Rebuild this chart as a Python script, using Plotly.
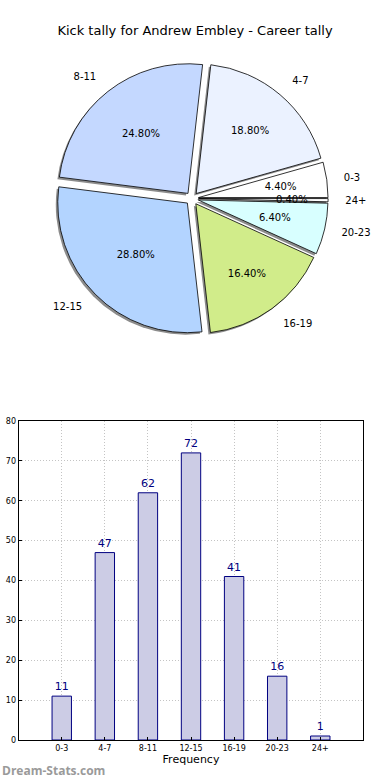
import plotly.graph_objects as go

categories = ["0-3", "4-7", "8-11", "12-15", "16-19", "20-23", "24+"]
counts = [11, 47, 62, 72, 41, 16, 1]
slice_colors = ["#ffffff", "#ebf2ff", "#c4d8ff", "#b3d4ff", "#d1ec8a", "#d8ffff", "#ffffff"]
y_ticks = [0, 10, 20, 30, 40, 50, 60, 70, 80]
title_text = "Kick tally for Andrew Embley - Career tally"

W, H = 390, 780
pull = 0.05
cx, cy = 195.5, 198.5  # pie centre (px from top-left)
r = 132
r_lab = 146
r_small_pct = 98
# first slice starts at 3 o'clock, counterclockwise
rot = 90 - 360 * counts[0] / sum(counts)
total = sum(counts)
small = [c / total < 0.1 for c in counts]

def dom(cxp, cyp, rad):
    half = rad * (1 + pull)
    return dict(x=[(cxp - half) / W, (cxp + half) / W],
                y=[(H - cyp - half) / H, (H - cyp + half) / H])

fig = go.Figure()

common = dict(labels=categories, values=counts, sort=False, direction="counterclockwise",
              rotation=rot, pull=[pull] * len(counts))

# shadow
fig.add_trace(go.Pie(
    **common, domain=dom(cx - 2, cy + 2, r),
    marker=dict(colors=["#8c8c8c"] * len(counts), line=dict(width=0)),
    textinfo="none", hoverinfo="skip", showlegend=False,
))
# main slices with percentages inside (large slices)
fig.add_trace(go.Pie(
    **common, domain=dom(cx, cy, r),
    marker=dict(colors=slice_colors, line=dict(color="#000000", width=0.8)),
    texttemplate=["" if s else "%{percent:.2%}" for s in small], textposition="inside",
    insidetextorientation="horizontal",
    textfont=dict(family="DejaVu Sans", size=10, color="#000000"),
    showlegend=False,
))
# percentages of the small slices, placed closer to the centre
fig.add_trace(go.Pie(
    **common, domain=dom(cx, cy, r_small_pct),
    marker=dict(colors=["rgba(0,0,0,0)"] * len(counts), line=dict(width=0)),
    texttemplate=["%{percent:.2%}" if s else "" for s in small], textposition="inside",
    insidetextorientation="horizontal",
    textfont=dict(family="DejaVu Sans", size=10, color="#000000"),
    hoverinfo="skip", showlegend=False,
))
# category labels outside (transparent ring slightly larger)
fig.add_trace(go.Pie(
    **common, domain=dom(cx, cy, r_lab),
    marker=dict(colors=["rgba(0,0,0,0)"] * len(counts), line=dict(width=0)),
    texttemplate="%{label}", textposition="outside",
    outsidetextfont=dict(family="DejaVu Sans", size=10, color="#000000"),
    hoverinfo="skip", showlegend=False,
))

# bar chart
fig.add_trace(go.Bar(
    x=categories, y=counts, width=0.45,
    marker=dict(color="#ccccE5", line=dict(color="#000080", width=1)),
    text=counts, textposition="outside", cliponaxis=False,
    textfont=dict(family="DejaVu Sans", size=11, color="#000080"),
    xaxis="x", yaxis="y", showlegend=False,
))

grid = dict(showgrid=True, gridcolor="#c4c4c4", griddash="1px,2px", gridwidth=1,
            showline=True, linecolor="#000000", linewidth=1, mirror=True,
            ticks="inside", ticklen=3, tickcolor="#000000",
            tickfont=dict(family="DejaVu Sans", size=8), zeroline=False, automargin=False)

fig.update_layout(
    width=W, height=H, autosize=False,
    margin=dict(l=0, r=0, t=0, b=0),
    paper_bgcolor="#ffffff", plot_bgcolor="#ffffff",
    font=dict(family="DejaVu Sans", color="#000000"),
    uniformtext=dict(minsize=10, mode="show"),
    title=dict(text=title_text, x=0.5, xanchor="center", y=1 - 30 / H, yanchor="middle",
               font=dict(family="DejaVu Sans", size=13, color="#000000")),
    xaxis=dict(domain=[19 / W, 370 / W], range=[-1, 7],
               title=dict(text="Frequency", font=dict(size=11), standoff=2),
               anchor="y", **grid),
    yaxis=dict(domain=[40 / H, 359 / H], range=[0, 80], tickvals=y_ticks,
               anchor="x", **grid),
    annotations=[dict(text="<b>Dream-Stats.com</b>", x=0, xref="paper", xanchor="left",
                      y=(H - 770) / H, yref="paper", yanchor="middle", showarrow=False,
                      font=dict(family="Open Sans", size=12, color="#9a9a9a"))],
)

fig.write_html("out.html", config={"displayModeBar": False, "responsive": False},
               post_script="document.body.style.margin='0';document.body.style.overflow='hidden';document.documentElement.style.overflow='hidden';")
